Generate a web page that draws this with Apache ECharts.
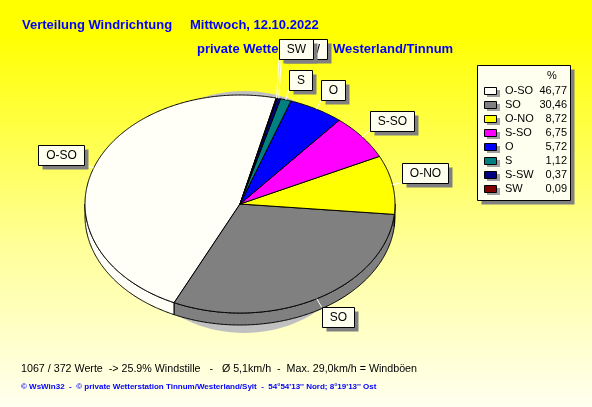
<!DOCTYPE html>
<html><head><meta charset="utf-8">
<script src="https://cdn.jsdelivr.net/npm/echarts@6/dist/echarts.min.js"></script>
<style>html,body{margin:0;padding:0;} #c{width:592px;height:407px;}</style>
</head><body><div id="c"></div>
<script>
const categories = ['O-SO','SO','O-NO','S-SO','O','S','S-SW','SW'];
const percentValues = [46.77,30.46,8.72,6.75,5.72,1.12,0.37,0.09];
const sliceColors = ['#FFFFF8','#808080','#FFFF00','#FF00FF','#0000FF','#008080','#000080','#800000'];
const titleLine1 = ['Verteilung Windrichtung','Mittwoch, 12.10.2022'];
const titleLine2 = ['private Wetterstation','Westerland/Tinnum'];
const footerLines = ['1067 / 372 Werte  -> 25.9% Windstille   -   \u00D8 5,1km/h  -  Max. 29,0km/h = Windb\u00F6en',
  '\u00A9 WsWin32  -  \u00A9 private Wetterstation Tinnum/Westerland/Sylt  -  54\u00B054\'13\'\' Nord; 8\u00B019\'13\'\' Ost'];
const legendHeader = '%';

const CX=240, CY=204, RX=155, RY=109, DEPTH=12, START=76.5;
const FONT = '"Liberation Sans", Arial, sans-serif';
const total = percentValues.reduce((a,b)=>a+b,0);
const angles = []; let acc = START;
percentValues.forEach(v=>{ const a1=acc; acc += v/total*360; angles.push([a1,acc]); });
const rad = d=>d*Math.PI/180;
function pt(a,dy){ return [CX+RX*Math.cos(rad(a)), CY-RY*Math.sin(rad(a))+(dy||0)]; }
function arc(a1,a2,dy){ const n=Math.max(2,Math.ceil(Math.abs(a2-a1)/0.5)); const out=[]; for(let i=0;i<=n;i++) out.push(pt(a1+(a2-a1)*i/n,dy)); return out; }

const LABEL_FONT = '12px ' + FONT;
const ctx = document.createElement('canvas').getContext('2d'); ctx.font = LABEL_FONT;
const labels = categories.map((name,i)=>{
  const mid=(angles[i][0]+angles[i][1])/2;
  const c=Math.cos(rad(mid)), s=Math.sin(rad(mid));
  const edge=pt(mid);
  const ax=edge[0]+10*c, ay=edge[1]-10*s;
  const w=Math.round(ctx.measureText(name).width)+15, h=20;
  const x = c>=0 ? ax : ax-w;
  const y = s>=0 ? ay-h : ay;
  return {name, mid, c, s, edge, w, h, x, y, pushed:false};
});
function overlap(a,b){ return a.x < b.x+b.w && b.x < a.x+a.w && a.y < b.y+b.h && b.y < a.y+a.h; }
const natural = labels.map(l=>({x:l.x,y:l.y,w:l.w,h:l.h}));
labels.forEach((l,i)=>{
  let lim=null;
  for(let j=0;j<i;j++){
    if(!labels[j].pushed && overlap(natural[i],natural[j])){
      if(l.s>=0) lim = lim===null ? natural[j].y : Math.min(lim,natural[j].y);
      else lim = lim===null ? natural[j].y+natural[j].h : Math.max(lim,natural[j].y+natural[j].h);
    }
  }
  if(lim!==null){ l.pushed=true; l.y = l.s>=0 ? lim-11-l.h : lim+11; }
});

function renderItem(params, api){
  const i=params.dataIndex;
  const a1=angles[i][0], a2=angles[i][1];
  const color=sliceColors[i];
  const children=[];
  if(i===0) children.push({type:'ellipse', shape:{cx:244,cy:212,rx:128,ry:121}, style:{fill:'#C0C0C0'}, z2:0});
  for(let k=0;k<2;k++){
    const lo=180+360*k, hi=360+360*k;
    const b1=Math.max(a1,lo), b2=Math.min(a2,hi);
    if(b2>b1){
      const top=arc(b1,b2,0), bot=arc(b2,b1,DEPTH);
      children.push({type:'polygon', shape:{points:top.concat(bot)}, style:{fill:color, stroke:'#000', lineWidth:1}, z2:10});
    }
  }
  children.push({type:'polygon', shape:{points:[[CX,CY]].concat(arc(a1,a2,0))}, style:{fill:color, stroke:'#000', lineWidth:1}, z2:20});
  const l=labels[i];
  const cx = l.c>=0 ? l.x : l.x+l.w;
  const cy = l.s>=0 ? l.y+l.h : l.y;
  children.push({type:'line', shape:{x1:l.edge[0], y1:l.edge[1], x2:cx, y2:cy}, style:{stroke:'#FFFFFF', lineWidth:1}, z2:30});
  const bx=Math.round(l.x)+0.5, by=Math.round(l.y)+0.5;
  children.push({type:'rect', shape:{x:bx+4, y:by+4, width:l.w, height:l.h}, style:{fill:'#808080'}, z2:40+i*3});
  children.push({type:'rect', shape:{x:bx, y:by, width:l.w, height:l.h}, style:{fill:'#FFFFF0', stroke:'#000', lineWidth:1}, z2:41+i*3});
  children.push({type:'text', x:bx+l.w/2, y:by+l.h/2+0.5, style:{text:l.name, font:LABEL_FONT, fill:'#000', align:'center', verticalAlign:'middle'}, z2:42+i*3});
  return {type:'group', children};
}

const graphics=[];
const T1='bold 13px '+FONT;
graphics.push({type:'text', x:22, y:25.5, style:{text:titleLine1[0], font:T1, fill:'#0000FF', verticalAlign:'middle'}});
graphics.push({type:'text', x:190, y:25.5, style:{text:titleLine1[1], font:T1, fill:'#0000FF', verticalAlign:'middle'}});
graphics.push({type:'text', x:197, y:49, style:{text:titleLine2[0], font:T1, fill:'#0000FF', verticalAlign:'middle'}});
graphics.push({type:'text', x:333, y:49, style:{text:titleLine2[1], font:T1, fill:'#0000FF', verticalAlign:'middle'}});
graphics.push({type:'text', x:21, y:369.5, style:{text:footerLines[0], font:'10.7px '+FONT, fill:'#000', verticalAlign:'middle'}});
graphics.push({type:'text', x:21, y:386.5, style:{text:footerLines[1], font:'bold 8px '+FONT, fill:'#0000FF', verticalAlign:'middle'}});
// legend
graphics.push({type:'rect', shape:{x:481.5, y:69.5, width:93, height:135}, style:{fill:'#808080'}});
graphics.push({type:'rect', shape:{x:477.5, y:65.5, width:93, height:135}, style:{fill:'#FFFFF0', stroke:'#000', lineWidth:1}});
graphics.push({type:'text', x:552, y:76, style:{text:legendHeader, font:'11px '+FONT, fill:'#000', align:'center', verticalAlign:'middle'}});
categories.forEach((name,i)=>{
  const y=91+14*i;
  graphics.push({type:'rect', shape:{x:487, y:y-1, width:13, height:7}, style:{fill:'#A0A0A0'}});
  graphics.push({type:'rect', shape:{x:484.5, y:y-3.5, width:12, height:7}, style:{fill:sliceColors[i], stroke:'#000', lineWidth:1}});
  graphics.push({type:'text', x:505, y:y, style:{text:name, font:'11px '+FONT, fill:'#000', verticalAlign:'middle'}});
  graphics.push({type:'text', x:567, y:y, style:{text:percentValues[i].toFixed(2).replace('.',','), font:'11px '+FONT, fill:'#000', align:'right', verticalAlign:'middle'}});
});

const chart = echarts.init(document.getElementById('c'), null, {renderer:'canvas'});
chart.setOption({
  animation:false,
  backgroundColor:{type:'linear', x:0, y:0, x2:0, y2:1, colorStops:[
    {offset:0, color:'#FFFF00'}, {offset:0.08, color:'#FFFF00'}, {offset:0.6, color:'#FFFF98'}, {offset:1, color:'#FFFFF0'}]},
  graphic: graphics,
  series:[{type:'custom', coordinateSystem:'none', z:5, renderItem, data: percentValues.map((v,i)=>({name:categories[i], value:v}))}]
});
</script></body></html>
